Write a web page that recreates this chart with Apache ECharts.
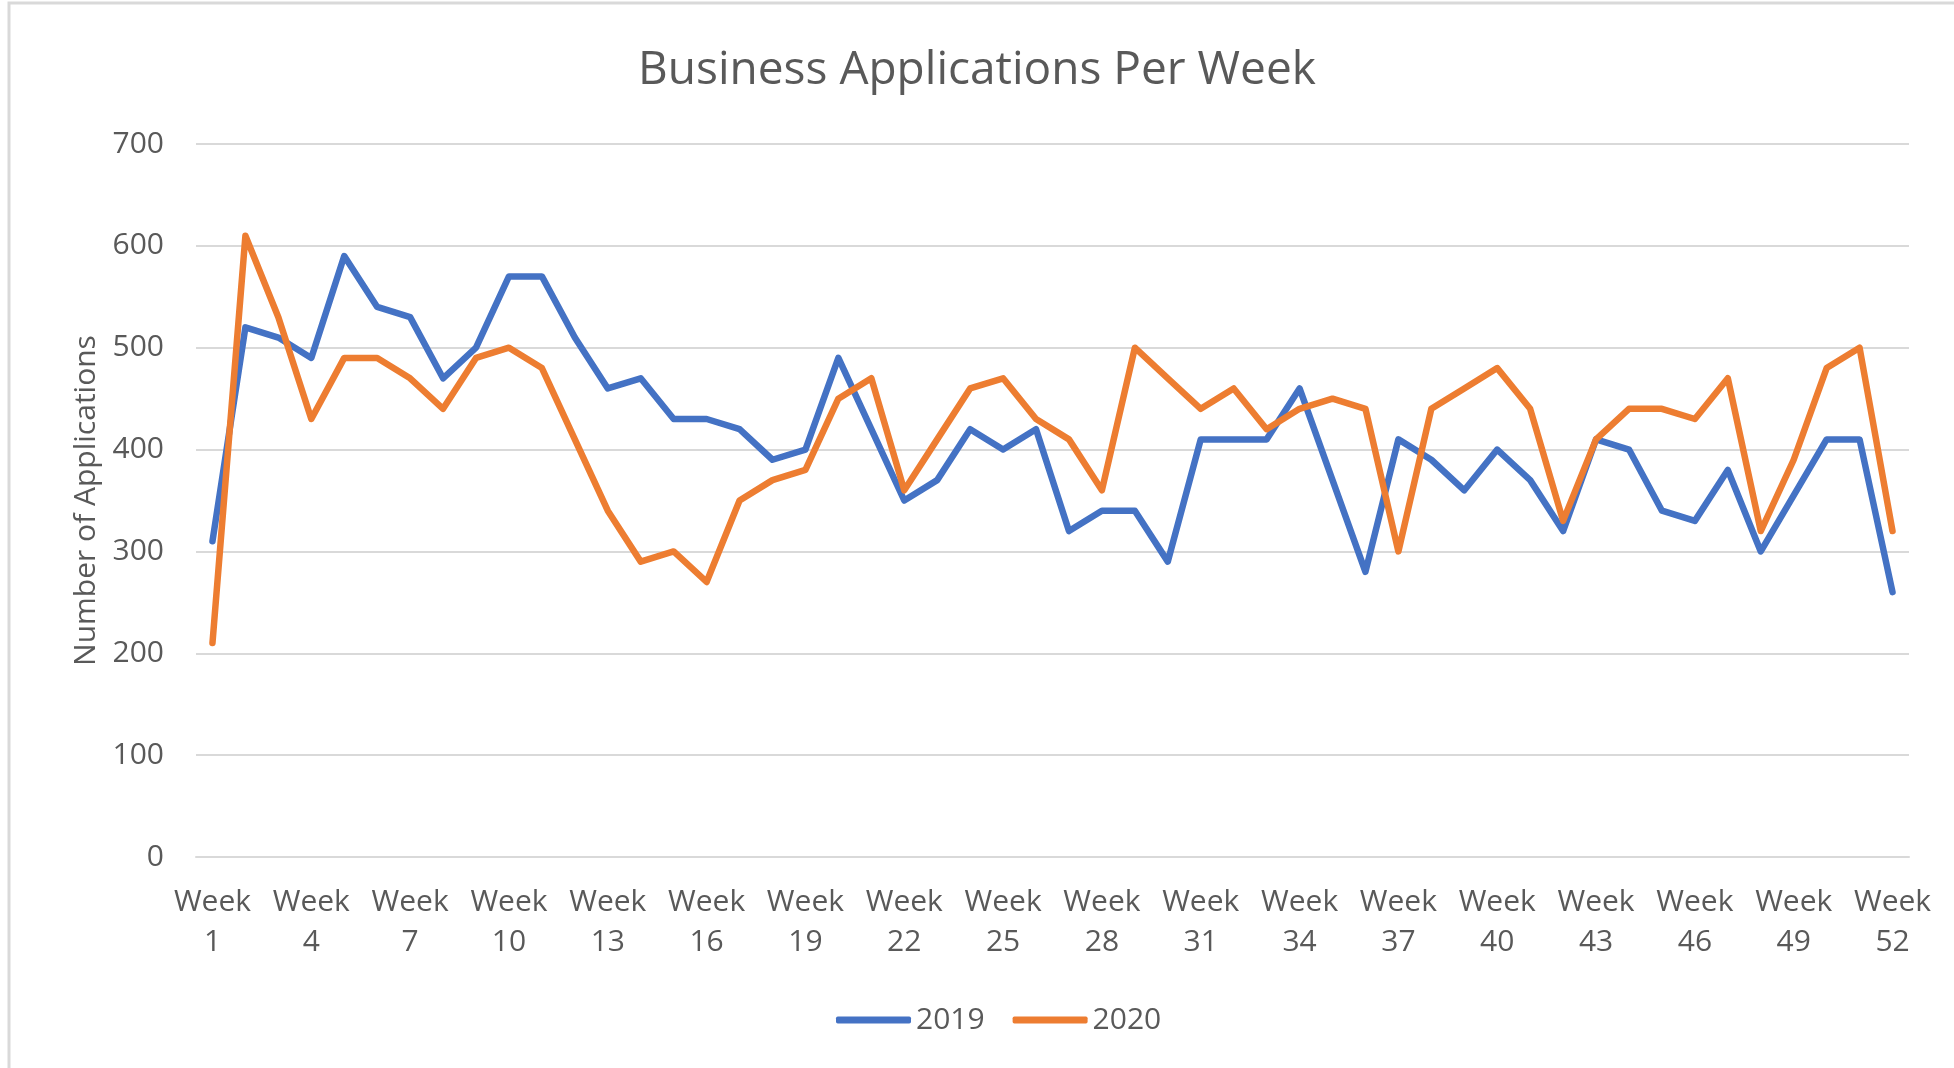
<!DOCTYPE html>
<html style="height: 100%">

<head>
    <meta charset="utf-8">
    <title>Business Applications Per Week</title>
</head>

<body style="height: 100%; margin: 0;">
    <div id="container" style="width: 1954px; height: 1068px;"></div>
    <script src="https://cdn.jsdelivr.net/npm/echarts@6/dist/echarts.min.js"></script>
    <script type="text/javascript">
        // weeks 1..52
        var weeks = [];
        for (var w = 1; w <= 52; w++) {
            weeks.push('Week ' + w);
        }
        var apps2019 = [310, 520, 510, 490, 590, 540, 530, 470, 500, 570,
            570, 510, 460, 470, 430, 430, 420, 390, 400, 490,
            420, 350, 370, 420, 400, 420, 320, 340, 340, 290,
            410, 410, 410, 460, 370, 280, 410, 390, 360, 400,
            370, 320, 410, 400, 340, 330, 380, 300, 355, 410,
            410, 260];
        var apps2020 = [210, 610, 530, 430, 490, 490, 470, 440, 490, 500,
            480, 410, 340, 290, 300, 270, 350, 370, 380, 450,
            470, 360, 410, 460, 470, 430, 410, 360, 500, 470,
            440, 460, 420, 440, 450, 440, 300, 440, 460, 480,
            440, 330, 410, 440, 440, 430, 470, 320, 390, 480,
            500, 320];
        var yTicks = [0, 100, 200, 300, 400, 500, 600, 700];

        var font = "'Open Sans', sans-serif";
        var grey = '#595959';

        var dom = document.getElementById("container");
        var myChart = echarts.init(dom);
        var option = {
            backgroundColor: '#ffffff',
            animation: false,
            title: {
                text: 'Business Applications Per Week',
                left: 'center',
                top: 43,
                textStyle: { fontFamily: font, fontSize: 46, fontWeight: 'normal', color: grey }
            },
            legend: {
                left: 831,
                top: 1000,
                icon: 'roundRect',
                itemWidth: 75,
                itemHeight: 7,
                itemGap: 28,
                textStyle: { fontFamily: font, fontSize: 30, color: grey }
            },
            graphic: [{
                type: 'rect',
                silent: true,
                shape: { x: 9, y: 3, width: 2000, height: 1100 },
                style: { fill: 'none', stroke: '#D9D9D9', lineWidth: 3 }
            }],
            grid: { left: 196, right: 45, top: 144, bottom: 211 },
            xAxis: {
                type: 'category',
                data: weeks,
                boundaryGap: true,
                axisLine: { lineStyle: { color: '#D9D9D9', width: 2 } },
                axisTick: { show: false },
                axisLabel: {
                    interval: 2,
                    margin: 25,
                    fontFamily: font,
                    fontSize: 30,
                    lineHeight: 40,
                    color: grey,
                    formatter: function (v) { return v.replace(' ', '\n'); }
                }
            },
            yAxis: {
                type: 'value',
                min: yTicks[0],
                max: yTicks[yTicks.length - 1],
                interval: 100,
                name: 'Number of Applications',
                nameLocation: 'middle',
                nameGap: 88,
                nameTextStyle: { fontFamily: font, fontSize: 30, color: grey },
                axisLine: { show: false },
                axisTick: { show: false },
                axisLabel: { margin: 32, fontFamily: font, fontSize: 30, color: grey },
                splitLine: { lineStyle: { color: '#D9D9D9', width: 2 } }
            },
            series: [{
                name: '2019',
                type: 'line',
                data: apps2019,
                showSymbol: false,
                color: '#4472C4',
                lineStyle: { width: 6.5, color: '#4472C4', cap: 'round', join: 'round' }
            }, {
                name: '2020',
                type: 'line',
                data: apps2020,
                showSymbol: false,
                color: '#ED7D31',
                lineStyle: { width: 6.5, color: '#ED7D31', cap: 'round', join: 'round' }
            }]
        };
        myChart.setOption(option);
    </script>
</body>

</html>
